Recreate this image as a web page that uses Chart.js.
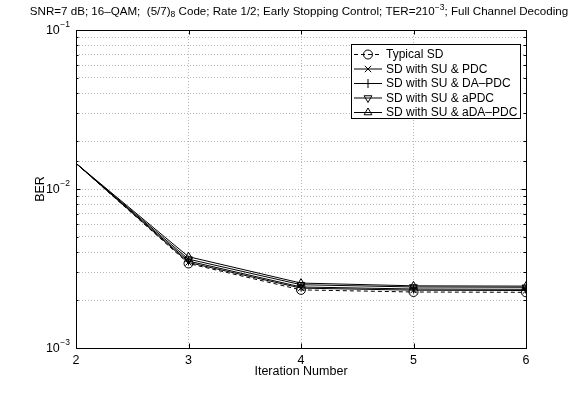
<!DOCTYPE html>
<html>
<head>
<meta charset="utf-8">
<script src="https://cdn.jsdelivr.net/npm/chart.js@4.4.1/dist/chart.umd.min.js"></script>
<style>
html, body { margin: 0; padding: 0; background: #fff; }
</style>
</head>
<body>
<canvas id="berChart" width="581" height="393"></canvas>
<script>
// data
const iterations = [2, 3, 4, 5, 6];
const seriesNames = ['Typical SD', 'SD with SU & PDC', 'SD with SU & DA\u2013PDC', 'SD with SU & aPDC', 'SD with SU & aDA\u2013PDC'];
const typicalSD = [0.0145, 0.00340, 0.00232, 0.00225, 0.00224];
const suPDC = [0.0145, 0.00345, 0.00238, 0.00231, 0.00230];
const suDAPDC = [0.0145, 0.00352, 0.00242, 0.00235, 0.00234];
const suAPDC = [0.0145, 0.00362, 0.00250, 0.00242, 0.00241];
const suADAPDC = [0.0145, 0.00375, 0.00256, 0.00246, 0.00245];
const yDecades = [-3, -2, -1];
const xTicks = [2, 3, 4, 5, 6];

const FONT = '"Liberation Sans", Arial, Helvetica, sans-serif';

// marker style per series
const markerStyles = [
    { pointStyle: 'circle', rotation: 0, dash: [4, 3] },
    { pointStyle: 'crossRot', rotation: 0, dash: [] },
    { pointStyle: 'cross', rotation: 0, dash: [] },
    { pointStyle: 'triangle', rotation: 180, dash: [] },
    { pointStyle: 'triangle', rotation: 0, dash: [] }
];
const seriesValues = [typicalSD, suPDC, suDAPDC, suAPDC, suADAPDC];

const datasets = seriesValues.map((vals, i) => ({
    label: seriesNames[i],
    data: iterations.map((x, j) => ({ x: x, y: vals[j] })),
    borderColor: '#000',
    borderWidth: 1,
    borderDash: markerStyles[i].dash,
    backgroundColor: 'rgba(0,0,0,0)',
    pointStyle: markerStyles[i].pointStyle,
    pointRotation: markerStyles[i].rotation,
    pointRadius: ctx => ctx.dataIndex === 0 ? 0 : 4.5,
    pointBorderColor: '#000',
    pointBackgroundColor: 'rgba(0,0,0,0)',
    pointBorderWidth: 1,
    tension: 0
}));

// title, frame, inward ticks, y labels with exponents
const decorPlugin = {
    id: 'decor',
    beforeDatasetsDraw(chart) {
        const ctx = chart.ctx;
        const a = chart.chartArea;
        const xs = chart.scales.x;
        const ys = chart.scales.y;
        ctx.save();
        ctx.strokeStyle = '#000';
        ctx.lineWidth = 1;
        // tick marks (inward)
        ctx.beginPath();
        ys.ticks.forEach(t => {
            const y = Math.round(ys.getPixelForValue(t.value)) + 0.5;
            const major = Math.abs(Math.log10(t.value) - Math.round(Math.log10(t.value))) < 1e-6;
            const len = major ? 4.5 : 2.5;
            ctx.moveTo(a.left, y); ctx.lineTo(a.left + len, y);
            ctx.moveTo(a.right, y); ctx.lineTo(a.right - len, y);
        });
        xTicks.forEach(v => {
            const x = Math.round(xs.getPixelForValue(v)) + 0.5;
            ctx.moveTo(x, a.bottom); ctx.lineTo(x, a.bottom - 4.5);
            ctx.moveTo(x, a.top); ctx.lineTo(x, a.top + 4.5);
        });
        ctx.stroke();
        // frame
        ctx.strokeRect(Math.round(a.left) + 0.5, Math.round(a.top) + 0.5,
            Math.round(a.right - a.left), Math.round(a.bottom - a.top));

        // y tick labels 10^n
        ctx.fillStyle = '#000';
        ctx.textBaseline = 'middle';
        yDecades.forEach(e => {
            const y = ys.getPixelForValue(Math.pow(10, e));
            ctx.font = '8.5px ' + FONT;
            const expTxt = '\u2212' + Math.abs(e);
            const ew = ctx.measureText(expTxt).width;
            ctx.textAlign = 'left';
            const expX = 70 - ew;
            ctx.fillText(expTxt, expX, y - 5);
            ctx.font = '12.5px ' + FONT;
            ctx.textAlign = 'right';
            ctx.fillText('10', expX - 0.5, y + 1);
        });

        // title with sub/superscripts
        const parts = [
            { t: 'SNR=7 dB; 16\u2013QAM;  (5/7)', s: 11.6, dy: 0 },
            { t: '8', s: 8.5, dy: 3 },
            { t: ' Code; Rate 1/2; Early Stopping Control; TER=210', s: 11.6, dy: 0 },
            { t: '\u22123', s: 8.5, dy: -4 },
            { t: '; Full Channel Decoding', s: 11.6, dy: 0 }
        ];
        let total = 0;
        parts.forEach(p => { ctx.font = p.s + 'px ' + FONT; p.w = ctx.measureText(p.t).width; total += p.w; });
        let x = 299 - total / 2;
        ctx.textAlign = 'left';
        ctx.textBaseline = 'middle';
        parts.forEach(p => {
            ctx.font = p.s + 'px ' + FONT;
            ctx.fillText(p.t, x, 12 + p.dy);
            x += p.w;
        });
        ctx.restore();
    },
    afterDraw(chart) {
        // legend box inside the axes
        const ctx = chart.ctx;
        const bx = 351.5, by = 44.5, bw = 169, bh = 74;
        ctx.save();
        ctx.fillStyle = '#fff';
        ctx.fillRect(bx, by, bw, bh);
        ctx.strokeStyle = '#000';
        ctx.lineWidth = 1;
        ctx.strokeRect(bx, by, bw, bh);
        chart.data.datasets.forEach((ds, i) => {
            const y = 54.5 + i * 14.5;
            ctx.strokeStyle = '#000';
            ctx.lineWidth = 1;
            ctx.setLineDash(ds.borderDash);
            ctx.beginPath();
            ctx.moveTo(354, y);
            ctx.lineTo(382, y);
            ctx.stroke();
            ctx.setLineDash([]);
            ctx.fillStyle = 'rgba(0,0,0,0)';
            Chart.helpers.drawPoint(ctx, {
                pointStyle: ds.pointStyle,
                rotation: ds.pointRotation,
                radius: 4.5,
                borderWidth: 1
            }, 368, y);
            ctx.fillStyle = '#000';
            ctx.font = '12px ' + FONT;
            ctx.textAlign = 'left';
            ctx.textBaseline = 'middle';
            ctx.fillText(ds.label, 386, y + 0.5);
        });
        ctx.restore();
    }
};

const chart = new Chart(document.getElementById('berChart').getContext('2d'), {
    type: 'line',
    data: { datasets: datasets },
    options: {
        responsive: false,
        animation: false,
        devicePixelRatio: 1,
        layout: { padding: { left: 0, top: 30, right: 55, bottom: 0 } },
        plugins: {
            legend: { display: false },
            title: { display: false },
            tooltip: { enabled: false }
        },
        scales: {
            x: {
                type: 'linear',
                min: 2,
                max: 6,
                afterFit: scale => { scale.height = 45; },
                afterBuildTicks: scale => { scale.ticks = xTicks.map(v => ({ value: v })); },
                ticks: {
                    color: '#000',
                    padding: 5,
                    font: { family: FONT, size: 12.5 },
                    maxRotation: 0
                },
                grid: {
                    color: ctx => (ctx.tick && (ctx.tick.value === 2 || ctx.tick.value === 6)) ? 'rgba(0,0,0,0)' : '#b8b8b8',
                    lineWidth: 1,
                    drawTicks: false
                },
                border: { display: false, dash: [1, 2] },
                title: {
                    display: true,
                    text: 'Iteration Number',
                    color: '#000',
                    font: { family: FONT, size: 12.5 },
                    padding: { top: 0, bottom: 14 }
                }
            },
            y: {
                type: 'logarithmic',
                min: 0.001,
                max: 0.1,
                afterFit: scale => { scale.width = 76; },
                ticks: { display: false },
                grid: {
                    color: '#b8b8b8',
                    lineWidth: 1,
                    drawTicks: false
                },
                border: { display: false, dash: [1, 2] },
                title: {
                    display: true,
                    text: 'BER',
                    color: '#000',
                    font: { family: FONT, size: 12.5 },
                    padding: { top: 33, bottom: 0 }
                }
            }
        }
    },
    plugins: [decorPlugin]
});
</script>
</body>
</html>
